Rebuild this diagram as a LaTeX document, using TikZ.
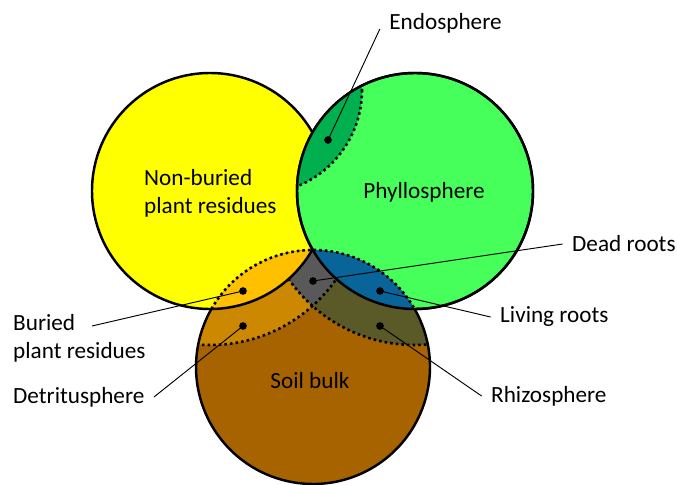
\documentclass[tikz,border=0pt]{standalone}
\usepackage{fontspec}
\setmainfont{Carlito}
\usepackage{tikz}
\usetikzlibrary{positioning}
\definecolor{vnyellow}{HTML}{FFFF00}
\definecolor{vngreen}{HTML}{46FF5A}
\definecolor{vnendo}{HTML}{00B04F}
\definecolor{vngold}{HTML}{FFC000}
\definecolor{vnblue}{HTML}{09649A}
\definecolor{vngray}{HTML}{595959}
\definecolor{vndetritus}{HTML}{CC8800}
\definecolor{vnolive}{HTML}{5A5A28}
\definecolor{vnsoil}{HTML}{A66300}

\begin{document}
\begin{tikzpicture}[x=0.03cm,y=-0.03cm,
 rim/.style={line width=2.1pt},
 zoneedge/.style={line width=2.2pt,dash pattern=on 2.2pt off 2.6pt},
 leader/.style={line width=0.8pt},
 spot/.style={circle,fill=black,inner sep=0pt,minimum size=2.3mm},
 tag/.style={inner sep=8pt,font=\fontsize{19.8}{24.2}\selectfont},
 zonetext/.style={inner sep=0pt,align=center,font=\fontsize{19.8}{24.2}\selectfont}
]
\useasboundingbox (0,0) rectangle (677,485);
\coordinate (res) at (210,191);
\coordinate (phy) at (415,191);
\coordinate (soil) at (313,367);
\coordinate (endo) at (258,90);
% above-ground circles
\filldraw[rim,fill=vnyellow] (res) circle[radius=118];
\filldraw[rim,fill=vngreen] (phy) circle[radius=118];
\begin{scope}
  \clip (phy) circle[radius=118];
  \fill[vnendo] (endo) circle[radius=104];
  \draw[zoneedge] (endo) circle[radius=104];
\end{scope}
\draw[rim] (phy) circle[radius=118];
% soil circle and its zones
\begin{scope}
  \clip (soil) circle[radius=117];
  \fill[vnsoil] (soil) circle[radius=117];
  \fill[vndetritus] (res) circle[radius=154];
  \fill[vnolive] (phy) circle[radius=154];
  \begin{scope}
    \clip (res) circle[radius=154];
    \fill[vngray] (phy) circle[radius=154];
  \end{scope}
  \draw[zoneedge] (res) circle[radius=154];
  \draw[zoneedge] (phy) circle[radius=154];
  \filldraw[rim,fill=vngold] (res) circle[radius=118];
  \filldraw[rim,fill=vnblue] (phy) circle[radius=118];
\end{scope}
\draw[rim] (soil) ++(-29.7:117) arc[start angle=-29.7,end angle=209.7,radius=117];
\draw[zoneedge] (soil) ++(209.7:117) arc[start angle=209.7,end angle=330.3,radius=117];
% texts inside the circles
\node[zonetext,align=left,anchor=north west] (tRes) at (144,169) {Non-buried\\plant residues};
\node[zonetext] (tPhy) at (424,192) {Phyllosphere};
\node[zonetext] (tSoil) at (310,381) {Soil bulk};
% marked spots
\node[spot] (dEndo) at (328,140) {};
\node[spot] (dDead) at (313,281) {};
\node[spot] (dLiving) at (380,291) {};
\node[spot] (dRhizo) at (380,326) {};
\node[spot] (dBuried) at (243,291) {};
\node[spot] (dDetritus) at (243,326) {};
% labels outside
\node[tag] (tEndo) at (445.5,23) {Endosphere};
\node[tag,anchor=west] (tDead) at (562.6,244) {Dead roots};
\node[tag,anchor=west] (tLiving) at (490.6,317) {Living roots};
\node[tag,anchor=west] (tRhizo) at (481.6,396) {Rhizosphere};
\node[tag,anchor=north west,align=left] (tBuried) at (3.6,304.3) {Buried\\plant residues};
\node[tag,anchor=west] (tDetritus) at (3.6,397) {Detritusphere};
\coordinate (eBuried) at (92,326);
\draw[leader] (dEndo.center) -- (tEndo.base west);
\draw[leader] (dDead.center) -- (tDead.west);
\draw[leader] (dLiving.center) -- (tLiving.west);
\draw[leader] (dRhizo.center) -- (tRhizo.west);
\draw[leader] (dBuried.center) -- (eBuried);
\draw[leader] (dDetritus.center) -- (tDetritus.east);
\end{tikzpicture}
\end{document}
